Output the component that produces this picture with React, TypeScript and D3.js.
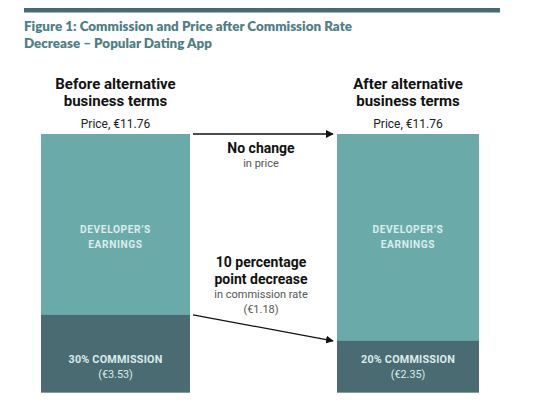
import React from "react";
import * as d3 from "d3";

const scenarios = ["Before alternative business terms", "After alternative business terms"];
const headerLines = [["Before alternative", "business terms"], ["After alternative", "business terms"]];
const prices = [11.76, 11.76];
const commissions = [3.53, 2.35];
const commissionLabels = [["30% COMMISSION", "(€3.53)"], ["20% COMMISSION", "(€2.35)"]];
const earningsLabel = ["DEVELOPER’S", "EARNINGS"];
const priceChange = ["No change", "in price"];
const commissionChange = ["10 percentage", "point decrease", "in commission rate", "(€1.18)"];

const W = 540;
const H = 417;

export default function App() {
  const x = d3.scaleOrdinal<string, number>().domain(scenarios).range([41, 337]);
  const widths = [149, 142];
  const y = d3.scaleLinear().domain([0, 11.76]).range([392.5, 134]);
  const teal = "#6aabaa";
  const dark = "#4a6b72";
  const light = "#dcecec";
  const midX = 261;

  return (
    <div style={{ margin: -8 }}>
      <svg width={W} height={H} style={{ display: "block", background: "#fff" }}>
        <defs>
          <marker id="ah" viewBox="0 0 10 10" refX="9" refY="5" markerWidth="6" markerHeight="6" orient="auto">
            <path d="M0,0 L10,5 L0,10 z" fill="#111" />
          </marker>
        </defs>
        <rect x={24} y={7.5} width={476} height={5} fill="#456a72" />
        <g fontFamily="Lato" fontWeight={800} fontSize={13} fill="#4e7f85">
          <text x={24} y={30.5} textLength={328} lengthAdjust="spacingAndGlyphs">Figure 1: Commission and Price after Commission Rate</text>
          <text x={24} y={47.5} textLength={188} lengthAdjust="spacingAndGlyphs">Decrease – Popular Dating App</text>
        </g>
        {scenarios.map((s, i) => {
          const x0 = x(s);
          const w = widths[i];
          const cx = x0 + w / 2;
          return (
            <g key={s}>
              <rect x={x0} y={y(prices[i])} width={w} height={y(0) - y(prices[i])} fill={teal} />
              <rect x={x0} y={y(commissions[i])} width={w} height={y(0) - y(commissions[i])} fill={dark} />
              <g fontFamily="Roboto" textAnchor="middle">
                <text x={cx} y={89} fontSize={15} fontWeight={700} fill="#111">{headerLines[i][0]}</text>
                <text x={cx} y={106} fontSize={15} fontWeight={700} fill="#111">{headerLines[i][1]}</text>
                <text x={cx} y={128} fontSize={12} fill="#222">{`Price, €${prices[i].toFixed(2)}`}</text>
                <text x={cx} y={233} fontSize={10.2} fontWeight={700} fill={light} letterSpacing={0.6}>{earningsLabel[0]}</text>
                <text x={cx} y={248} fontSize={10.2} fontWeight={700} fill={light} letterSpacing={0.6}>{earningsLabel[1]}</text>
                <text x={cx} y={363} fontSize={10.8} fontWeight={700} fill={light} letterSpacing={0.2}>{commissionLabels[i][0]}</text>
                <text x={cx} y={377.5} fontSize={10.8} fill={light}>{commissionLabels[i][1]}</text>
              </g>
            </g>
          );
        })}
        <line x1={193} y1={y(prices[0])} x2={333} y2={y(prices[1])} stroke="#111" strokeWidth={1.3} markerEnd="url(#ah)" />
        <line x1={193} y1={y(commissions[0])} x2={333} y2={y(commissions[1])} stroke="#111" strokeWidth={1.3} markerEnd="url(#ah)" />
        <g fontFamily="Roboto" textAnchor="middle">
          <text x={midX} y={153} fontSize={14} fontWeight={700} fill="#111">{priceChange[0]}</text>
          <text x={midX} y={167} fontSize={11} fill="#555">{priceChange[1]}</text>
          <text x={midX} y={267} fontSize={14} fontWeight={700} fill="#111">{commissionChange[0]}</text>
          <text x={midX} y={283.5} fontSize={14} fontWeight={700} fill="#111">{commissionChange[1]}</text>
          <text x={midX} y={298} fontSize={11} fill="#555">{commissionChange[2]}</text>
          <text x={midX} y={313} fontSize={11} fill="#555">{commissionChange[3]}</text>
        </g>
      </svg>
    </div>
  );
}
